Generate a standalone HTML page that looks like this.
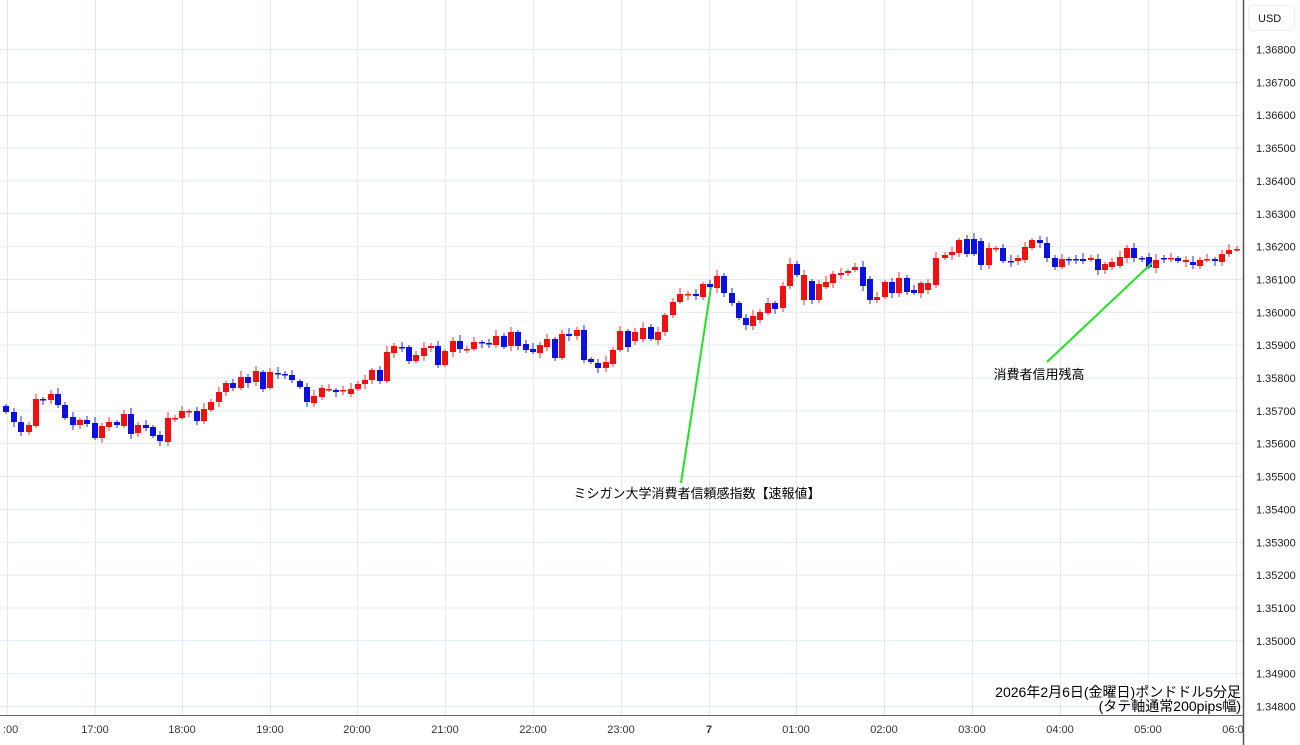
<!DOCTYPE html>
<html><head><meta charset="utf-8"><style>
body{margin:0;background:#fff;}
svg{display:block;font-family:"Liberation Sans","Noto Sans CJK JP",sans-serif;}
</style></head><body>
<svg id="s" width="1300" height="745" xmlns="http://www.w3.org/2000/svg">
<defs><clipPath id="cp"><rect x="0" y="716" width="1243" height="29"/></clipPath></defs>
<rect width="1300" height="745" fill="#fff"/>
<g id="grid" stroke="#e3e9ef" stroke-width="1"></g>
<g id="c"></g>
<line x1="711" y1="287" x2="681" y2="483" stroke="#22e022" stroke-width="2"/>
<line x1="1152" y1="263" x2="1047" y2="362" stroke="#22e022" stroke-width="2"/>
<text x="697" y="498" font-size="13" text-anchor="middle" fill="#000">ミシガン大学消費者信頼感指数【速報値】</text>
<text x="1039" y="379" font-size="13" text-anchor="middle" fill="#000">消費者信用残高</text>
<text x="1241" y="697" font-size="14" text-anchor="end" fill="#000">2026年2月6日(金曜日)ポンドドル5分足</text>
<text x="1241" y="711" font-size="14" text-anchor="end" fill="#000">(タテ軸通常200pips幅)</text>
<rect x="1243" y="0" width="57" height="745" fill="#fff"/>
<rect x="0" y="716" width="1243" height="29" fill="#fff"/>
<line x1="1243.5" y1="0" x2="1243.5" y2="745" stroke="#555" stroke-width="1.5"/>
<line x1="0" y1="715.5" x2="1243" y2="715.5" stroke="#666" stroke-width="1"/>
<rect x="1248.5" y="5.5" width="46" height="25" rx="4" fill="#fff" stroke="#eee"/>
<text x="1258" y="22" font-size="11" fill="#111">USD</text>
<g id="lab" font-size="11" fill="#222"></g>
<g id="xlab" font-size="11" fill="#333" clip-path="url(#cp)"></g>
</svg>
<script>
var ns="http://www.w3.org/2000/svg";
function el(p,t,a,txt){var e=document.createElementNS(ns,t);for(var k in a)e.setAttribute(k,a[k]);if(txt)e.textContent=txt;p.appendChild(e);return e;}
var g=document.getElementById('grid'),lab=document.getElementById('lab'),xl=document.getElementById('xlab');
for(var i=0;i<=20;i++){var y=49.5+i*32.85;el(g,'line',{x1:0,y1:y,x2:1243,y2:y});
var v=(1.368-i*0.001).toFixed(5);el(lab,'text',{x:1256,y:y+4},v);}
var xs=[7,95,182,270,357,445,533,621,709,796,884,972,1060,1148,1236],
ls=[":00","17:00","18:00","19:00","20:00","21:00","22:00","23:00","7","01:00","02:00","03:00","04:00","05:00","06:00"];
xs.forEach(function(x,i){el(g,'line',{x1:x+.5,y1:0,x2:x+.5,y2:715});
el(xl,'text',{x:i==0?3:x,y:733,'text-anchor':i==0?'start':'middle','font-weight':i==8?'bold':'normal'},ls[i]);});
var d=[[6,406,412,'b'],[14,412,422,'b'],[21,422,432,'b'],[29,425,432,'r'],[36,399,426,'r'],[43,399,400,'b'],[51,394,400,'r'],[58,394,405,'b'],[65,405,418,'b'],[73,417,425,'b'],[80,420,425,'r'],[87,420,424,'b'],[95,423,438,'b'],[102,426,438,'r'],[109,422,427,'r'],[117,422,425,'b'],[124,414,426,'r'],[131,414,434,'b'],[138,425,433,'r'],[146,425,428,'b'],[153,427,436,'b'],[160,435,441,'b'],[168,418,442,'r'],[175,418,419,'r'],[182,411,418,'r'],[189,411,412,'r'],[197,411,421,'b'],[204,409,421,'r'],[211,402,410,'r'],[219,392,402,'r'],[226,383,392,'r'],[233,383,388,'b'],[241,377,388,'r'],[248,377,383,'b'],[256,371,382,'r'],[263,372,389,'b'],[270,372,388,'r'],[278,373,374,'b'],[285,374,375,'b'],[292,375,380,'b'],[300,381,387,'b'],[307,387,402,'b'],[314,396,403,'r'],[322,388,397,'r'],[329,389,390,'r'],[336,390,392,'b'],[343,390,391,'r'],[351,389,394,'r'],[358,384,389,'r'],[365,380,384,'r'],[372,370,380,'r'],[380,370,381,'b'],[387,352,381,'r'],[394,346,353,'r'],[402,347,348,'b'],[409,347,361,'b'],[416,355,361,'r'],[424,348,356,'r'],[431,346,348,'r'],[438,346,365,'b'],[445,351,365,'r'],[453,341,352,'r'],[460,341,349,'b'],[467,349,350,'r'],[474,342,349,'r'],[482,342,343,'b'],[489,343,344,'b'],[496,336,345,'r'],[504,336,347,'b'],[511,332,346,'r'],[518,332,346,'b'],[526,344,350,'b'],[533,349,352,'b'],[540,345,353,'r'],[547,339,347,'r'],[555,339,358,'b'],[562,334,358,'r'],[569,334,336,'b'],[577,330,336,'r'],[584,330,360,'b'],[591,359,362,'b'],[598,363,368,'b'],[606,362,368,'r'],[613,350,364,'r'],[620,331,350,'r'],[628,331,347,'b'],[635,332,341,'r'],[643,328,339,'r'],[651,327,339,'b'],[658,332,340,'r'],[665,315,332,'r'],[673,302,315,'r'],[680,294,302,'r'],[688,294,295,'r'],[696,294,296,'b'],[703,284,297,'r'],[710,284,287,'b'],[717,276,288,'r'],[724,276,293,'b'],[732,293,303,'b'],[739,303,318,'b'],[746,318,325,'b'],[753,316,326,'r'],[760,312,320,'r'],[768,303,313,'r'],[775,303,309,'b'],[783,286,308,'r'],[790,264,286,'r'],[797,264,275,'b'],[804,275,300,'r'],[812,281,300,'b'],[819,284,300,'r'],[826,282,287,'r'],[833,274,283,'r'],[841,273,275,'r'],[848,271,273,'r'],[855,267,270,'r'],[863,267,286,'b'],[870,279,300,'b'],[877,297,300,'r'],[885,282,297,'r'],[892,282,293,'b'],[899,278,293,'r'],[907,278,292,'b'],[914,290,293,'b'],[921,283,293,'r'],[928,283,290,'r'],[936,258,285,'r'],[945,255,258,'r'],[952,252,255,'r'],[959,240,253,'r'],[967,239,254,'b'],[974,239,254,'b'],[981,241,265,'b'],[989,248,265,'r'],[996,248,249,'r'],[1003,248,261,'b'],[1011,261,262,'b'],[1018,258,261,'r'],[1025,247,260,'r'],[1032,240,248,'r'],[1040,240,243,'b'],[1047,243,258,'b'],[1055,258,267,'b'],[1062,259,267,'r'],[1069,259,260,'b'],[1076,259,260,'b'],[1083,259,261,'b'],[1091,258,260,'r'],[1098,259,270,'b'],[1105,264,270,'r'],[1112,262,267,'r'],[1120,257,266,'r'],[1127,248,258,'r'],[1134,248,258,'b'],[1142,258,259,'b'],[1149,257,267,'b'],[1156,260,268,'r'],[1164,258,259,'b'],[1171,258,259,'r'],[1178,258,261,'b'],[1186,260,262,'r'],[1193,262,265,'b'],[1200,260,266,'r'],[1207,259,260,'r'],[1215,259,261,'b'],[1222,254,262,'r'],[1229,250,254,'r'],[1237,249,250,'r']];
var c=document.getElementById('c');
d.forEach(function(k,i){var col=k[3]=='r'?'#f01010':'#0a10e0',wc=k[3]=='r'?'#f06060':'#5a5ae8';
var h=(i*7)%5+2;el(c,'line',{x1:k[0],y1:k[1]-h,x2:k[0],y2:k[2]+((i*3)%4+2),stroke:wc,'stroke-width':1.3});
el(c,'rect',{x:k[0]-3,y:k[1],width:6,height:Math.max(1.5,k[2]-k[1]),fill:col});});
</script>
</body></html>
